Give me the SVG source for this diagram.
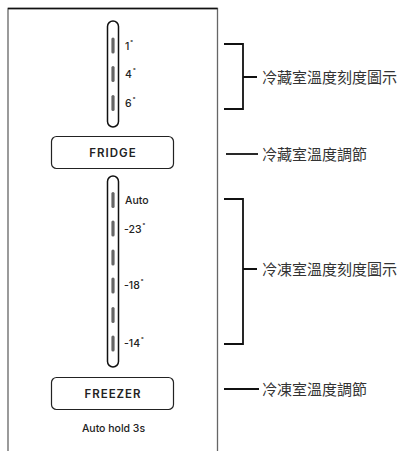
<svg xmlns="http://www.w3.org/2000/svg" width="404" height="451" viewBox="0 0 404 451">
<style>
.panel{fill:none;stroke:#666;stroke-width:1.3}
.pill{fill:#fff;stroke:#111;stroke-width:1.5}
.tick{stroke:#666;stroke-width:3.2;stroke-linecap:round}
.btn{fill:#fff;stroke:#222;stroke-width:1.2}
.btxt{font-family:Inter,"Liberation Sans",sans-serif;font-weight:600;font-size:11.5px;letter-spacing:1px;fill:#222;text-anchor:middle}
.lbl{font-family:Inter,"Liberation Sans",sans-serif;font-weight:500;font-size:10.5px;fill:#222}
.deg{font-size:6px}
.cn{font-family:"Noto Sans CJK TC","Noto Sans",sans-serif;font-size:15px;fill:#333}
.brk{fill:none;stroke:#111;stroke-width:1.8}
</style>
<rect width="404" height="451" fill="#fff"/>
<g id="panel">
<path class="panel" d="M8,451 V8.5 H217.5 V451"/>
<line x1="8" y1="8.5" x2="217.5" y2="8.5" stroke="#111" stroke-width="1.5"/>
</g>
<g id="fridge-scale">
<rect class="pill" x="107.5" y="21" width="11" height="106" rx="5.5"/>
<line class="tick" x1="113" y1="39" x2="113" y2="52"/>
<line class="tick" x1="113" y1="67.5" x2="113" y2="80.5"/>
<line class="tick" x1="113" y1="96.5" x2="113" y2="109.5"/>
<text class="lbl" x="125" y="49.5">1<tspan class="deg" dx="1" dy="-5">°</tspan></text>
<text class="lbl" x="125" y="77.5">4<tspan class="deg" dx="1" dy="-5">°</tspan></text>
<text class="lbl" x="125" y="106.5">6<tspan class="deg" dx="1" dy="-5">°</tspan></text>
</g>
<g id="fridge-button">
<rect class="btn" x="51.5" y="136.5" width="122" height="32" rx="5"/>
<text class="btxt" x="113" y="157">FRIDGE</text>
</g>
<g id="freezer-scale">
<rect class="pill" x="107.5" y="176" width="11" height="191" rx="5.5"/>
<line class="tick" x1="113" y1="193.5" x2="113" y2="206.5"/>
<line class="tick" x1="113" y1="222" x2="113" y2="235"/>
<line class="tick" x1="113" y1="251" x2="113" y2="264"/>
<line class="tick" x1="113" y1="279" x2="113" y2="292"/>
<line class="tick" x1="113" y1="308.5" x2="113" y2="321.5"/>
<line class="tick" x1="113" y1="337" x2="113" y2="350"/>
<text class="lbl" x="125" y="204">Auto</text>
<text class="lbl" x="124" y="232.5">-23<tspan class="deg" dx="1" dy="-5">°</tspan></text>
<text class="lbl" x="124" y="289">-18<tspan class="deg" dx="1" dy="-5">°</tspan></text>
<text class="lbl" x="124" y="346.5">-14<tspan class="deg" dx="1" dy="-5">°</tspan></text>
</g>
<g id="freezer-button">
<rect class="btn" x="51.5" y="377.5" width="122" height="32" rx="5"/>
<text class="btxt" x="113" y="397.5">FREEZER</text>
</g>
<g id="auto-hold">
<text class="lbl" x="113.5" y="431.5" text-anchor="middle">Auto hold 3s</text>
</g>
<g id="connectors">
<path class="brk" d="M224,44 H243 V109 H224 M243,77 H257"/>
<line class="brk" x1="226" y1="154" x2="258" y2="154"/>
<path class="brk" d="M224,199 H243 V344 H224 M243,269 H257"/>
<line class="brk" x1="224" y1="389" x2="259" y2="389"/>
</g>
<g id="label-fridge-scale"><text class="cn" x="262" y="82.5">冷藏室溫度刻度圖示</text></g>
<g id="label-fridge-adjust"><text class="cn" x="262" y="159.5">冷藏室溫度調節</text></g>
<g id="label-freezer-scale"><text class="cn" x="262" y="274.5">冷凍室溫度刻度圖示</text></g>
<g id="label-freezer-adjust"><text class="cn" x="262" y="394.5">冷凍室溫度調節</text></g>
</svg>
